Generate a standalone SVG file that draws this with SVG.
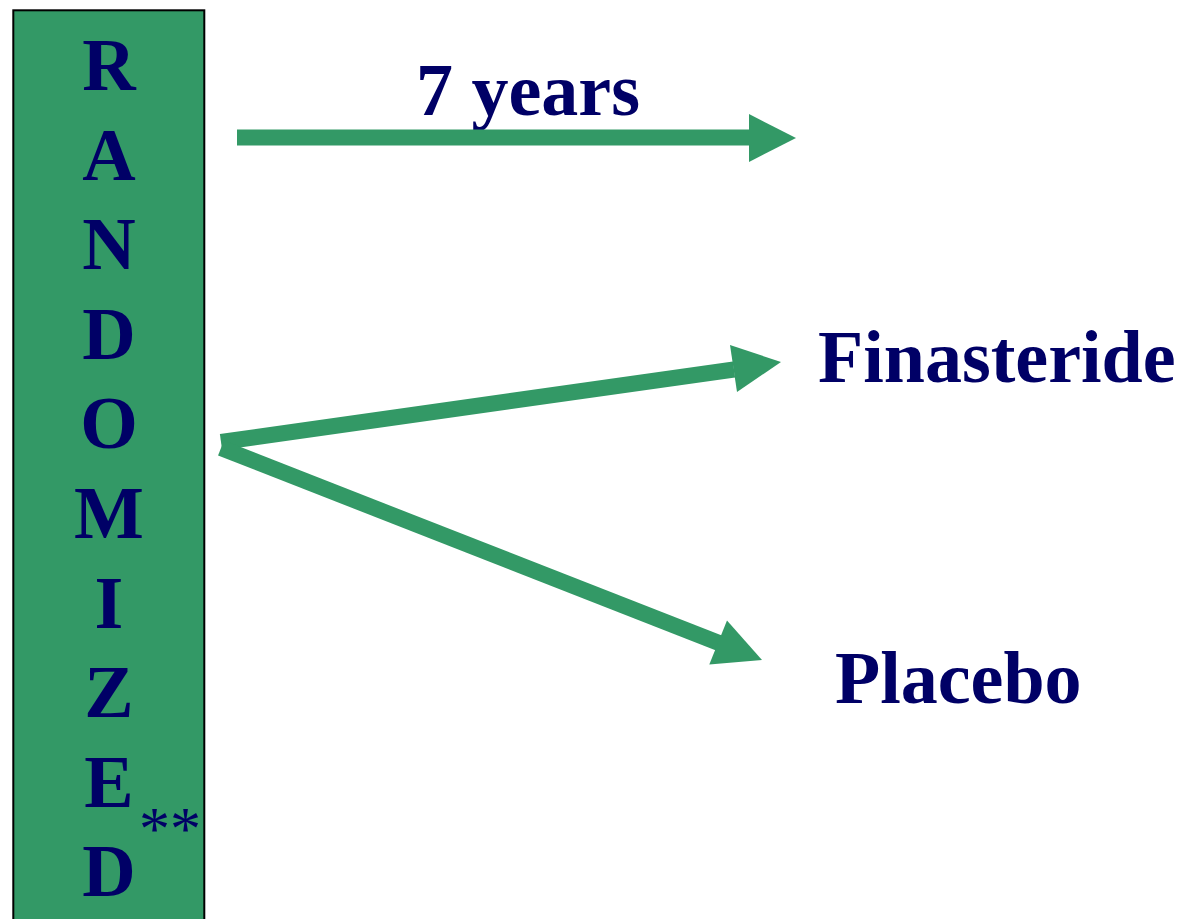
<svg xmlns="http://www.w3.org/2000/svg" width="1184" height="919" viewBox="0 0 1184 919">
<style>
.t{font-family:"Liberation Serif","Times New Roman",serif;font-weight:bold;fill:#000066;font-size:74px}
.c{text-anchor:middle}
.ln{stroke:#339966;stroke-width:16;fill:none}
.hd{fill:#339966}
</style>
<rect width="1184" height="919" fill="#ffffff"/>
<g id="randomized">
<rect x="13.3" y="10.3" width="191" height="920" fill="#339966" stroke="#000000" stroke-width="2"/>
<text class="t c" x="109" y="90">R</text>
<text class="t c" x="109" y="179.6">A</text>
<text class="t c" x="109" y="269.2">N</text>
<text class="t c" x="109" y="358.8">D</text>
<text class="t c" x="109" y="448">O</text>
<text class="t c" x="109" y="538">M</text>
<text class="t c" x="109" y="627.6">I</text>
<text class="t c" x="109" y="717.2">Z</text>
<text class="t c" x="109" y="806.8">E</text>
<text class="t c" x="109" y="896.4">D</text>
<text x="139" y="849" style="font-family:'Liberation Serif','Times New Roman',serif;font-size:62px;fill:#000066">**</text>
</g>
<g id="years">
<text class="t" x="416" y="115">7 years</text>
</g>
<g id="finasteride">
<text class="t" x="818" y="382">Finasteride</text>
</g>
<g id="placebo">
<text class="t" x="835" y="703">Placebo</text>
</g>
<g id="connectors">
<line class="ln" x1="237" y1="137.5" x2="750" y2="137.5"/>
<polygon class="hd" points="749,114 749,162 796,138"/>
<line class="ln" x1="221" y1="442" x2="734" y2="369.5"/>
<polygon class="hd" points="730,345 737,392 781,362"/>
<line class="ln" x1="221" y1="448" x2="719" y2="643"/>
<polygon class="hd" points="727,620.5 709.3,664.5 762,660"/>
</g>
</svg>
